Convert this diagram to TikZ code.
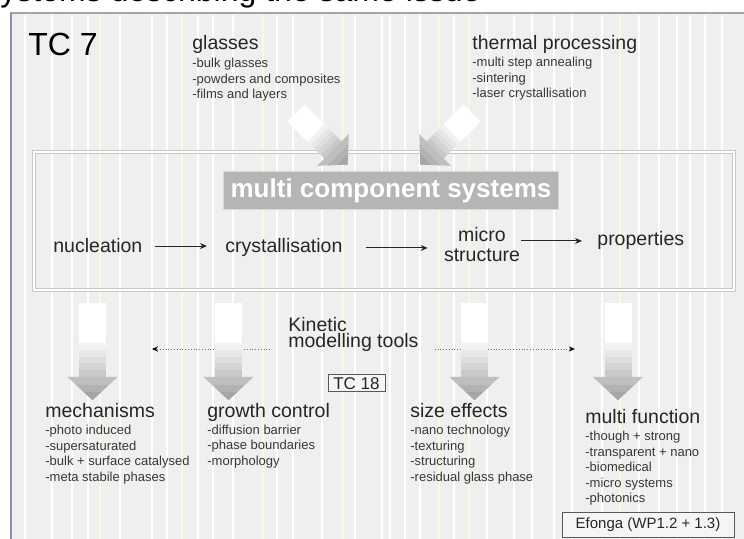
\documentclass[tikz,border=0pt]{standalone}
\usepackage{fontspec}
\setmainfont{Liberation Sans}
\usetikzlibrary{arrows.meta,calc,positioning}

\definecolor{panel}{HTML}{EFEFEF}
\definecolor{stripe}{HTML}{FAFAE2}
\definecolor{frameblue}{HTML}{8E8EB4}

\tikzset{
  head/.style={anchor=base west, inner sep=0, text=black!85, font=\fontsize{9.75}{11}\selectfont},
  items/.style={anchor=base west, inner sep=0, align=left, text=black!78, font=\fontsize{6.5}{7.75}\selectfont},
  stage/.style={inner sep=0, text=black!85, font=\fontsize{9.75}{10}\selectfont},
  flow/.style={-{Stealth[length=3.5pt,width=3pt]}, line width=0.5pt, black!85},
  dotflow/.style={-{Stealth[length=3pt,width=2.6pt,black]}, densely dotted, line width=0.4pt, black!55},
  tag/.style={draw=black!65, fill=black!4, line width=0.5pt, inner sep=0, text=black!85, font=\fontsize{8.5}{10}\selectfont}
}

% fat shaded arrow: start point, rotation, shaft length, scale
\newcommand{\fatarrow}[4]{%
  \begin{scope}[shift={#1}, rotate=#2, scale=#4]
    \pgfmathsetmacro{\wl}{0.54*#3}
    \pgfmathsetmacro{\bl}{0.092*#3}
    \fill[white] (-13.5,0) rectangle (13.5,\wl+0.5);
    \foreach \k/\c in {0/10,1/18,2/26,3/34,4/42}
      \fill[gray!\c] (-13.5,{\wl+\k*\bl}) rectangle (13.5,{\wl+(\k+1)*\bl+0.4});
    \fill[gray!50] (-25,#3) -- (25,#3) -- (0,{#3+23}) -- cycle;
    \fill[gray!60] (-16.3,{#3+8}) -- (16.3,{#3+8}) -- (0,{#3+23}) -- cycle;
    \fill[gray!70] (-8.7,{#3+15}) -- (8.7,{#3+15}) -- (0,{#3+23}) -- cycle;
  \end{scope}}

\begin{document}
\begin{tikzpicture}[x=0.5pt, y=-0.5pt]
  \useasboundingbox (0,0) rectangle (744,539);

  % cut caption line
  \begin{scope}
    \clip (0,0) rectangle (744,539);
    \node[anchor=base west, inner sep=0, font=\fontsize{16}{18}\selectfont] (caption) at (-16,2) {systems describing the same issue};
  \end{scope}

  % panel with stripes
  \fill[panel] (12,14) rectangle (744,539);
  \foreach \sx in {25,52,72,88,120,152,167,198,213,233,277,293,322,355,382,390,405,420,454,487,514,532,554,572,602,639,659,677,690,705,722}
    \draw[white, line width=0.7pt] (\sx,15) -- (\sx,539);
  \foreach \sx in {100,182,263,343,439,469,620}
    \draw[stripe, line width=0.8pt] (\sx,15) -- (\sx,539);
  \draw[black!35, line width=1pt] (10,13.5) -- (744,13.5);
  \draw[frameblue, line width=0.75pt] (11,13) -- (11,539);

  \node[anchor=base west, inner sep=0, font=\fontsize{16}{19}\selectfont] (tc7) at (28,56) {TC 7};

  % inputs
  \node[head] (glass) at (192,50) {glasses};
  \node[items] (glassitems) at (192,99) {-bulk glasses\\-powders and composites\\-films and layers};
  \node[head] (therm) at (472,50) {thermal processing};
  \node[items] (thermitems) at (472,98) {-multi step annealing\\-sintering\\-laser crystallisation};

  % process box
  \draw[black!22, double=white, double distance=0.8pt] (34,152) rectangle (734,290);
  \fatarrow{(296,113)}{45}{58}{0.9}
  \fatarrow{(472,113)}{-45}{58}{0.9}
  \node[fill=black!29, draw=black!15, line width=0.5pt, minimum width=166pt, minimum height=19pt,
        text=white, font=\fontsize{13}{15}\selectfont\bfseries] (mcs) at (391,191) {multi component systems};

  \node[stage, anchor=base west] (nuc) at (53,253) {nucleation};
  \node[stage, anchor=base west] (cry) at (225,253) {crystallisation};
  \node[stage, anchor=base, align=center] (micro) at (482,262) {micro\\structure};
  \node[stage, anchor=base west] (prop) at (597,246) {properties};
  \draw[flow] ($(nuc.east)+(12,0)$) -- ($(nuc.east -| cry.west)+(-18,0)$);
  \draw[flow] ($(cry.east)+(23,0)$) -- ($(cry.east -| micro.west)+(-16,0)$);
  \draw[flow] ($(prop.west -| micro.east)+(1,0)$) -- ($(prop.west)+(-15,0)$);

  % modelling
  \node[head] (kin1) at (288,332) {Kinetic};
  \node[head] (kin2) at (288,348) {modelling tools};
  \node[tag, minimum width=28.5pt, minimum height=8.5pt] (tc18) at (356.5,383.5) {TC 18};
  \draw[dotflow] ($(kin2.base west)+(-18,1)$) -- ($(kin2.base west)+(-136,1)$);
  \draw[dotflow] ($(kin2.base east)+(16,1)$) -- ($(kin2.base east)+(156,1)$);

  % outputs
  \fatarrow{(92.5,303)}{0}{74}{1}
  \fatarrow{(228.5,303)}{0}{74}{1}
  \fatarrow{(474.5,303)}{0}{74}{1}
  \fatarrow{(618,303)}{0}{74}{1}

  \node[head] (mech) at (45,418) {mechanisms};
  \node[items] (mechitems) at (45,481) {-photo induced\\-supersaturated\\-bulk + surface catalysed\\-meta stabile phases};
  \node[head] (growth) at (207,418) {growth control};
  \node[items] (growthitems) at (207,465.5) {-diffusion barrier\\-phase boundaries\\-morphology};
  \node[head] (size) at (410,417) {size effects};
  \node[items] (sizeitems) at (410,481) {-nano technology\\-texturing\\-structuring\\-residual glass phase};
  \node[head] (multi) at (585,423) {multi function};
  \node[items] (multiitems) at (585,502.5) {-though + strong\\-transparent + nano\\-biomedical\\-micro systems\\-photonics};
  \node[tag, minimum width=86pt, minimum height=12.5pt, font=\fontsize{7.5}{9}\selectfont] (efonga) at (648,524.5) {Efonga (WP1.2 + 1.3)};
\end{tikzpicture}
\end{document}
